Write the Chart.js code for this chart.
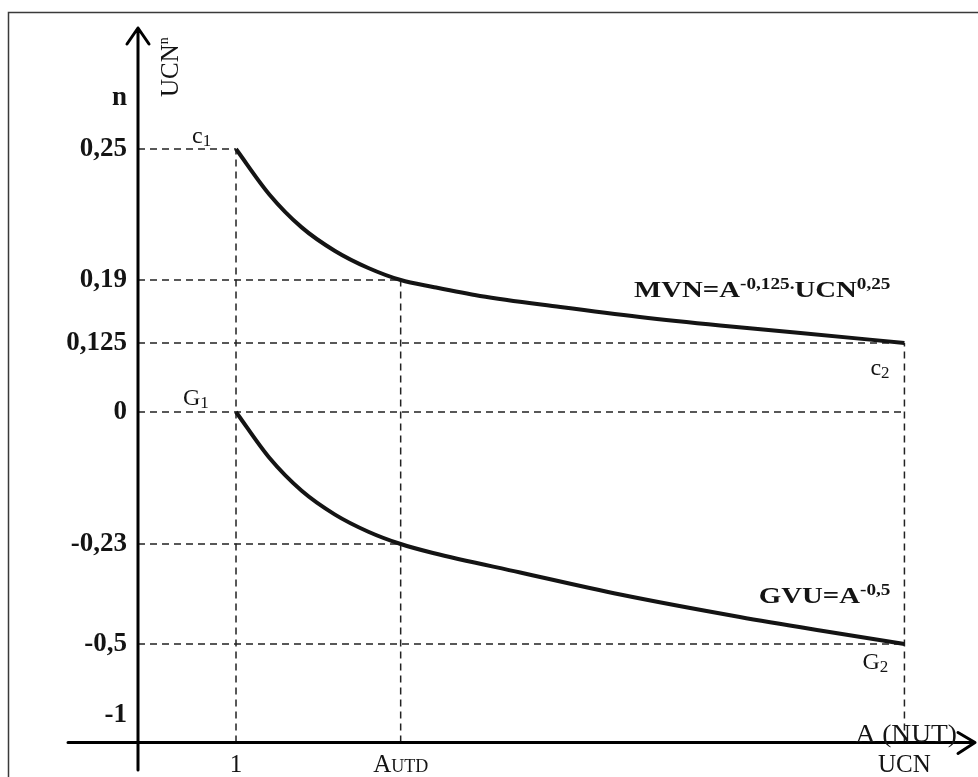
<!DOCTYPE html>
<html>
<head>
<meta charset="utf-8">
<script src="https://cdn.jsdelivr.net/npm/chart.js"></script>
<style>
  html, body { margin: 0; padding: 0; background: #fff; }
  #wrap { width: 978px; height: 777px; position: relative; }
</style>
</head>
<body>
<div id="wrap"><canvas id="myChart" width="978" height="777"></canvas></div>
<script>
// n values on the vertical axis, and the three marks on A
const yTickValues = [0.25, 0.19, 0.125, 0, -0.23, -0.5, -1];
const yTickLabels = ['0,25', '0,19', '0,125', '0', '-0,23', '-0,5', '-1'];
const xTickValues = [1, 2.68, 7.82];
const xTickLabels = [['1'], ['A', 'UTD'], ['UCN']];

// MVN = A^-0,125 . UCN^0,25  (c1 -> c2)
const mvnX = [1, 1.34, 1.67, 2.01, 2.35, 2.68, 3.01, 3.49, 4.31, 5.12, 5.94, 6.76, 7.82];
const mvnY = [0.25, 0.2292, 0.2141, 0.2033, 0.1955, 0.19, 0.1828, 0.1735, 0.1621, 0.1518, 0.143, 0.1353, 0.125];

// GVU = A^-0,5  (G1 -> G2)
const gvuX = [1, 1.34, 1.67, 2.01, 2.35, 2.68, 3.01, 3.9, 4.92, 6.14, 6.96, 7.82];
const gvuY = [0, -0.0798, -0.1373, -0.1788, -0.2086, -0.23, -0.2543, -0.307, -0.3664, -0.4271, -0.4636, -0.5];

const axisBase = -1.25;
const aUtd = xTickValues[1];
const ucn = xTickValues[2];

// dashed helper lines: [n, A where it stops]
const hGuides = [[0.25, 1], [0.19, aUtd], [0.125, ucn], [0, ucn], [-0.23, aUtd], [-0.5, ucn]];
// vertical ones: [A, n where it stops]
const vGuides = [[1, 0.25], [aUtd, 0.19], [ucn, 0.125]];

const INK = '#141414';
const SERIF = '"Liberation Serif", "DejaVu Serif", serif';

// the n axis of the sketch is not to scale: piecewise linear between stops
const LinearScale = Chart.LinearScale || Chart.registry.getScale('linear');
class StopScale extends LinearScale {
  static id = 'stops';
  buildTicks() {
    return this.options.tickValues.map(v => ({ value: v }));
  }
  _dec(v) {
    const s = this.options.stops;
    let i = 1;
    while (i < s.length - 1 && v > s[i][0]) i++;
    const a = s[i - 1], b = s[i];
    return a[1] + (v - a[0]) / (b[0] - a[0]) * (b[1] - a[1]);
  }
  getPixelForValue(v) {
    return this.getPixelForDecimal(this._dec(v));
  }
  getValueForPixel(p) {
    const d = this.getDecimalForPixel(p);
    const s = this.options.stops;
    let i = 1;
    while (i < s.length - 1 && d > s[i][1]) i++;
    const a = s[i - 1], b = s[i];
    return a[0] + (d - a[1]) / (b[1] - a[1]) * (b[0] - a[0]);
  }
}
Chart.register(StopScale);

const pts = (xs, ys) => xs.map((x, i) => ({ x: x, y: ys[i] }));

const curveStyle = {
  showLine: true,
  borderColor: INK,
  borderWidth: 4,
  pointRadius: 0,
  cubicInterpolationMode: 'monotone',
  fill: false
};
const guideStyle = {
  showLine: true,
  borderColor: '#222',
  borderWidth: 1.5,
  borderDash: [7, 5],
  pointRadius: 0,
  fill: false
};

const datasets = [
  Object.assign({ label: 'MVN', data: pts(mvnX, mvnY) }, curveStyle),
  Object.assign({ label: 'GVU', data: pts(gvuX, gvuY) }, curveStyle)
];
hGuides.forEach(g => {
  datasets.push(Object.assign({ data: [{ x: 0, y: g[0] }, { x: g[1], y: g[0] }] }, guideStyle));
});
vGuides.forEach(g => {
  datasets.push(Object.assign({ data: [{ x: g[0], y: axisBase }, { x: g[0], y: g[1] }] }, guideStyle));
});

// text in pieces (sub/superscripts), sx stretches it sideways
function rich(ctx, parts, x, y, align, sx) {
  sx = sx || 1;
  let w = 0;
  parts.forEach(p => { ctx.font = p.f; w += ctx.measureText(p.t).width; });
  w *= sx;
  let cx = align === 'right' ? x - w : align === 'center' ? x - w / 2 : x;
  ctx.save();
  ctx.translate(cx, y);
  ctx.scale(sx, 1);
  ctx.textAlign = 'left';
  ctx.textBaseline = 'alphabetic';
  let ox = 0;
  parts.forEach(p => {
    ctx.font = p.f;
    ctx.fillText(p.t, ox, p.dy || 0);
    ox += ctx.measureText(p.t).width;
  });
  ctx.restore();
}

const f = (size, bold) => (bold ? 'bold ' : '') + size + 'px ' + SERIF;

const sketch = {
  id: 'sketch',
  beforeDraw(chart) {
    const ctx = chart.ctx;
    ctx.save();
    ctx.fillStyle = '#fff';
    ctx.fillRect(0, 0, chart.width, chart.height);
    ctx.strokeStyle = '#3a3a3a';
    ctx.lineWidth = 1.5;
    ctx.strokeRect(8.5, 12.5, chart.width + 10, chart.height + 10);
    ctx.restore();
  },
  afterDatasetsDraw(chart) {
    const ctx = chart.ctx;
    const area = chart.chartArea;
    const xs = chart.scales.x, ys = chart.scales.y;
    const x0 = xs.getPixelForValue(0);
    const yb = ys.getPixelForValue(axisBase);
    ctx.save();
    ctx.strokeStyle = '#000';
    ctx.lineWidth = 3;
    ctx.lineJoin = 'round';
    ctx.lineCap = 'round';
    // vertical axis with arrow
    ctx.beginPath();
    ctx.moveTo(x0, area.bottom);
    ctx.lineTo(x0, area.top);
    ctx.moveTo(x0 - 11, area.top + 16);
    ctx.lineTo(x0, area.top);
    ctx.lineTo(x0 + 11, area.top + 16);
    // horizontal axis with arrow
    ctx.moveTo(x0 - 70, yb);
    ctx.lineTo(area.right, yb);
    ctx.moveTo(area.right - 17, yb - 10);
    ctx.lineTo(area.right, yb);
    ctx.lineTo(area.right - 17, yb + 11);
    ctx.stroke();

    ctx.fillStyle = INK;
    // axis titles
    rich(ctx, [{ t: 'n', f: f(27, true) }], x0 - 11, area.top + 77, 'right');
    ctx.save();
    ctx.translate(x0 + 40, area.top + 69);
    ctx.rotate(-Math.PI / 2);
    rich(ctx, [{ t: 'UCN', f: f(25) }, { t: 'n', f: f(14), dy: -10 }], 0, 0, 'left');
    ctx.restore();
    rich(ctx, [{ t: 'A (NUT)', f: f(25) }], area.right - 18, yb - 1, 'right', 1.1);

    // marks on A
    xTickValues.forEach((v, i) => {
      const lab = xTickLabels[i];
      const parts = [{ t: lab[0], f: f(25) }];
      if (lab[1]) parts.push({ t: lab[1], f: f(18) });
      rich(ctx, parts, xs.getPixelForValue(v), area.bottom + 2, 'center');
    });

    // end point names
    const px = v => xs.getPixelForValue(v);
    const py = v => ys.getPixelForValue(v);
    rich(ctx, [{ t: 'c', f: f(24) }, { t: '1', f: f(17), dy: 3 }], px(mvnX[0]) - 44, py(mvnY[0]) - 6, 'left');
    rich(ctx, [{ t: 'c', f: f(24) }, { t: '2', f: f(17), dy: 3 }], px(ucn) - 34, py(mvnY[mvnY.length - 1]) + 32, 'left');
    rich(ctx, [{ t: 'G', f: f(24) }, { t: '1', f: f(17), dy: 3 }], px(gvuX[0]) - 53, py(gvuY[0]) - 7, 'left');
    rich(ctx, [{ t: 'G', f: f(24) }, { t: '2', f: f(17), dy: 3 }], px(ucn) - 42, py(gvuY[gvuY.length - 1]) + 25, 'left');

    // formulas
    rich(ctx, [
      { t: 'MVN=A', f: f(24, true) },
      { t: '-0,125.', f: f(16, true), dy: -8 },
      { t: 'UCN', f: f(24, true) },
      { t: '0,25', f: f(16, true), dy: -8 }
    ], px(ucn) - 14, py(0.125) - 46, 'right', 1.2);
    rich(ctx, [
      { t: 'GVU=A', f: f(24, true) },
      { t: '-0,5', f: f(16, true), dy: -8 }
    ], px(ucn) - 14, py(-0.5) - 41, 'right', 1.2);
    ctx.restore();
  }
};

const config = {
  type: 'scatter',
  data: { datasets: datasets },
  options: {
    responsive: false,
    animation: false,
    events: [],
    layout: { padding: { left: 8, right: 3, top: 28, bottom: 7 } },
    plugins: {
      legend: { display: false },
      tooltip: { enabled: false }
    },
    scales: {
      x: { type: 'linear', display: false, min: 0, max: 8.54 },
      y: {
        type: 'stops',
        min: -1.5,
        max: 0.4,
        tickValues: yTickValues,
        stops: [[-1.5, 0], [-1, 0.0741], [-0.5, 0.1698], [-0.23, 0.3046], [0, 0.4825],
                [0.125, 0.5755], [0.19, 0.6604], [0.25, 0.8369], [0.4, 1]],
        afterFit: s => {
          s.width = 130;
          s.paddingTop = 0;
          s.paddingBottom = 0;
        },
        grid: { display: false, drawTicks: false },
        border: { display: false },
        ticks: {
          autoSkip: false,
          padding: 11,
          color: INK,
          font: { family: SERIF, size: 27, weight: 'bold' },
          callback: v => yTickLabels[yTickValues.indexOf(v)]
        }
      }
    }
  },
  plugins: [sketch]
};

const myChart = new Chart(document.getElementById('myChart'), config);
</script>
</body>
</html>
